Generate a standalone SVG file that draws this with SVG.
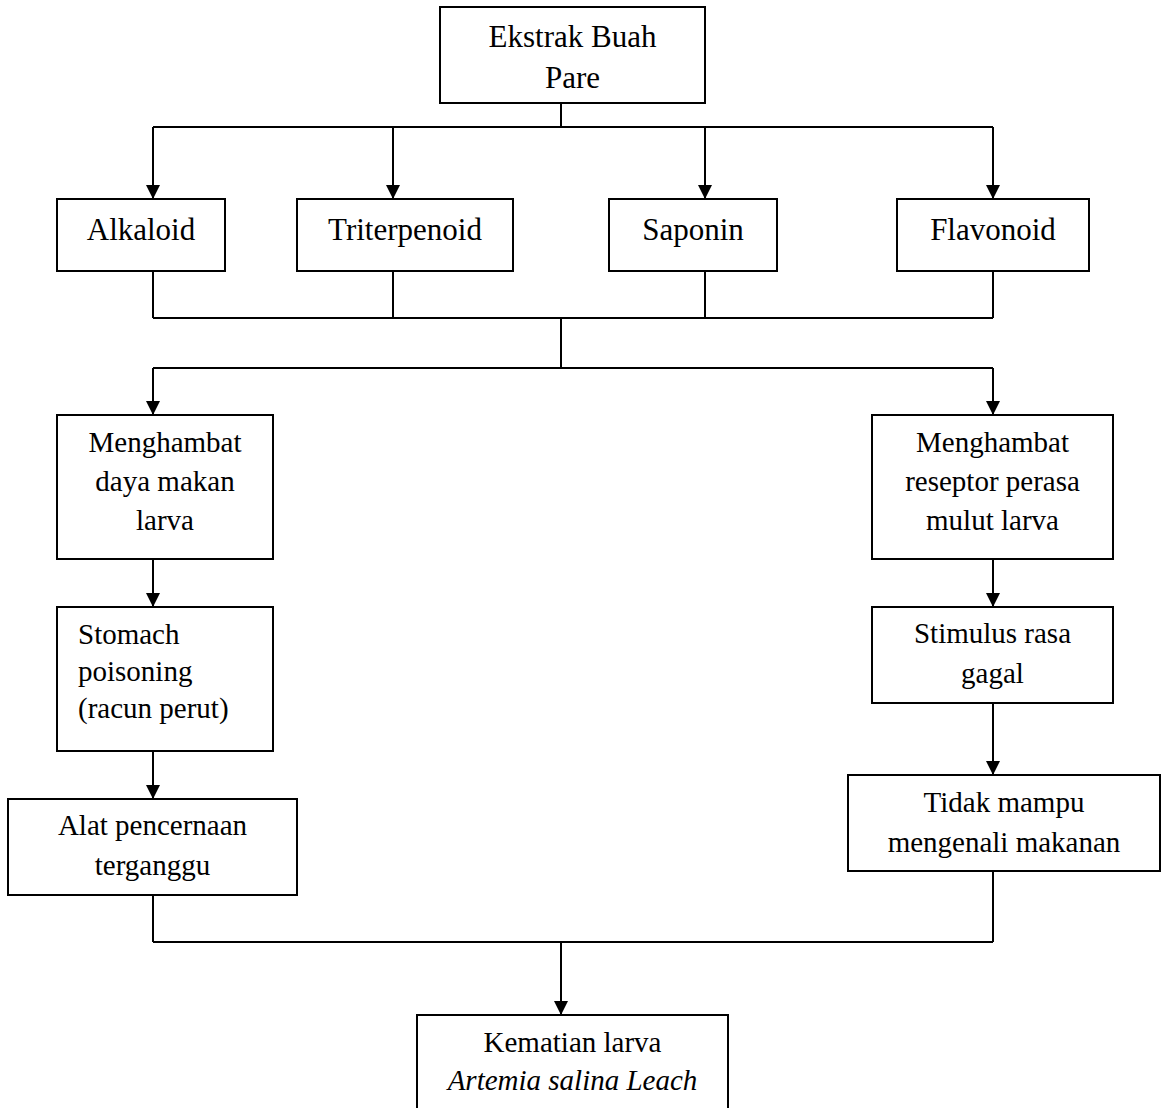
<svg xmlns="http://www.w3.org/2000/svg" width="1163" height="1108" viewBox="0 0 1163 1108">
<style>
.box{fill:#fff;stroke:#000;stroke-width:2}
.ln{fill:none;stroke:#000;stroke-width:2}
.t{font-family:"Liberation Serif","Times New Roman",serif;fill:#000;text-anchor:middle}
.a{font-size:31px}
.b{font-size:29px}
.l{text-anchor:start}
.i{font-style:italic}
</style>
<defs>
<marker id="arr" markerUnits="userSpaceOnUse" markerWidth="14" markerHeight="14" refX="14" refY="7" orient="auto" viewBox="0 0 14 14">
<path d="M0,0 L14,7 L0,14 z" fill="#000"/>
</marker>
</defs>
<rect width="1163" height="1108" fill="#fff"/>
<g id="connectors">
<path class="ln" d="M561,103 V127 M153,127 H993"/>
<path class="ln" d="M153,127 V199" marker-end="url(#arr)"/>
<path class="ln" d="M393,127 V199" marker-end="url(#arr)"/>
<path class="ln" d="M705,127 V199" marker-end="url(#arr)"/>
<path class="ln" d="M993,127 V199" marker-end="url(#arr)"/>
<path class="ln" d="M153,271 V318 M393,271 V318 M705,271 V318 M993,271 V318 M153,318 H993 M561,318 V368 M153,368 H993"/>
<path class="ln" d="M153,368 V415" marker-end="url(#arr)"/>
<path class="ln" d="M993,368 V415" marker-end="url(#arr)"/>
<path class="ln" d="M153,559 V607" marker-end="url(#arr)"/>
<path class="ln" d="M153,751 V799" marker-end="url(#arr)"/>
<path class="ln" d="M993,559 V607" marker-end="url(#arr)"/>
<path class="ln" d="M993,703 V775" marker-end="url(#arr)"/>
<path class="ln" d="M153,895 V942 M993,871 V942 M153,942 H993"/>
<path class="ln" d="M561,942 V1015" marker-end="url(#arr)"/>
</g>
<g id="ekstrak">
<rect class="box" x="440" y="7" width="265" height="96"/>
<text class="t a" x="572.5" y="47">Ekstrak Buah</text>
<text class="t a" x="572.5" y="88">Pare</text>
</g>
<g id="alkaloid">
<rect class="box" x="57" y="199" width="168" height="72"/>
<text class="t a" x="141" y="240">Alkaloid</text>
</g>
<g id="triterpenoid">
<rect class="box" x="297" y="199" width="216" height="72"/>
<text class="t a" x="405" y="240">Triterpenoid</text>
</g>
<g id="saponin">
<rect class="box" x="609" y="199" width="168" height="72"/>
<text class="t a" x="693" y="240">Saponin</text>
</g>
<g id="flavonoid">
<rect class="box" x="897" y="199" width="192" height="72"/>
<text class="t a" x="993" y="240">Flavonoid</text>
</g>
<g id="menghambat-daya">
<rect class="box" x="57" y="415" width="216" height="144"/>
<text class="t b" x="165" y="452">Menghambat</text>
<text class="t b" x="165" y="491">daya makan</text>
<text class="t b" x="165" y="530">larva</text>
</g>
<g id="menghambat-reseptor">
<rect class="box" x="872" y="415" width="241" height="144"/>
<text class="t b" x="992.5" y="452">Menghambat</text>
<text class="t b" x="992.5" y="491">reseptor perasa</text>
<text class="t b" x="992.5" y="530">mulut larva</text>
</g>
<g id="stomach">
<rect class="box" x="57" y="607" width="216" height="144"/>
<text class="t b l" x="78" y="644">Stomach</text>
<text class="t b l" x="78" y="681">poisoning</text>
<text class="t b l" x="78" y="718">(racun perut)</text>
</g>
<g id="stimulus">
<rect class="box" x="872" y="607" width="241" height="96"/>
<text class="t b" x="992.5" y="643">Stimulus rasa</text>
<text class="t b" x="992.5" y="683">gagal</text>
</g>
<g id="alat">
<rect class="box" x="8" y="799" width="289" height="96"/>
<text class="t b" x="152.5" y="835">Alat pencernaan</text>
<text class="t b" x="152.5" y="875">terganggu</text>
</g>
<g id="tidak">
<rect class="box" x="848" y="775" width="312" height="96"/>
<text class="t b" x="1004" y="812">Tidak mampu</text>
<text class="t b" x="1004" y="852">mengenali makanan</text>
</g>
<g id="kematian">
<rect class="box" x="417" y="1015" width="311" height="110"/>
<text class="t b" x="572.5" y="1052">Kematian larva</text>
<text class="t b i" x="572.5" y="1090">Artemia salina Leach</text>
</g>
</svg>
